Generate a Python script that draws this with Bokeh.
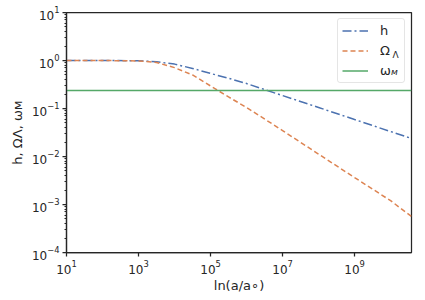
from bokeh.plotting import figure
from bokeh.models import FixedTicker, Legend, LegendItem, Range1d, Label
from bokeh.embed import file_html
from bokeh.resources import INLINE

# Data (x = a/a0, log scale)
a_vals = [1e1, 1e2, 1e3, 3.16e3, 1e4, 3.16e4, 1e5, 3.16e5, 1e6, 1e7, 1e8, 1e9, 3.16e9, 1e10, 3.8e10]
h_vals = [1.0, 1.0, 0.99, 0.944, 0.841, 0.684, 0.537, 0.427, 0.331, 0.186, 0.105, 0.0589, 0.0442, 0.0331, 0.0237]
omega_lambda = [1.0, 1.0, 0.98, 0.91, 0.71, 0.50, 0.295, 0.174, 0.105, 0.0347, 0.0112, 0.00363, 0.00209, 0.0012, 0.000562]
omega_m = [0.237] * len(a_vals)

x_ticks = [1e1, 1e3, 1e5, 1e7, 1e9]
y_ticks = [1e-4, 1e-3, 1e-2, 1e-1, 1e0, 1e1]
y_minor = [m * 10.0 ** e for e in range(-4, 1) for m in range(2, 10)]

FONT = "DejaVu Sans"
DARK = "#262626"

p = figure(frame_width=345, frame_height=240, x_axis_type="log", y_axis_type="log",
           x_range=Range1d(1e1, 3.8e10), y_range=Range1d(1e-4, 1e1),
           output_backend="svg", toolbar_location=None,
           min_border_left=66, min_border_right=6, min_border_top=12, min_border_bottom=40)

r_h = p.line(a_vals, h_vals, line_color="#4C72B0", line_width=1.5, line_dash="9 3 2 3")
r_l = p.line(a_vals, omega_lambda, line_color="#DD8452", line_width=1.5, line_dash="5 3")
r_m = p.line(a_vals, omega_m, line_color="#55A868", line_width=1.5)

p.xgrid.visible = False
p.ygrid.visible = False
p.outline_line_color = DARK
p.outline_line_width = 1.25
p.outline_line_alpha = 1.0

p.xaxis.ticker = FixedTicker(ticks=x_ticks, minor_ticks=[])
p.yaxis.ticker = FixedTicker(ticks=y_ticks, minor_ticks=y_minor)

for ax in (p.xaxis, p.yaxis):
    ax.axis_line_color = DARK
    ax.axis_line_width = 1.25
    ax.major_tick_line_color = DARK
    ax.minor_tick_line_color = DARK
    ax.major_tick_line_width = 1.25
    ax.minor_tick_line_width = 1.0
    ax.major_tick_out = 4
    ax.major_tick_in = 0
    ax.minor_tick_out = 2
    ax.minor_tick_in = 0
    ax.major_label_standoff = 3
    ax.major_label_text_font = FONT
    ax.major_label_text_font_size = "12px"
    ax.major_label_text_color = DARK
    ax.axis_label_text_font = FONT
    ax.axis_label_text_font_size = "13px"
    ax.axis_label_text_font_style = "normal"
    ax.axis_label_text_color = DARK

p.xaxis.axis_label = "ln(a/a\u2218)"
p.yaxis.axis_label = "h, \u03a9\u039b, \u03c9\u043c"
p.xaxis.axis_label_standoff = 1
p.yaxis.axis_label_standoff = 4

legend = Legend(items=[LegendItem(label="h", renderers=[r_h]),
                       LegendItem(label="\u03a9", renderers=[r_l]),
                       LegendItem(label="\u03c9", renderers=[r_m])],
                location="top_right")
legend.label_text_font = FONT
legend.label_text_font_size = "13px"
legend.label_text_color = DARK
legend.glyph_width = 26
legend.glyph_height = 13
legend.label_height = 13
legend.label_width = 20
legend.label_standoff = 12
legend.spacing = 5
legend.padding = 4
legend.margin = 6
legend.border_line_color = "#cccccc"
legend.border_line_width = 1
legend.border_radius = 3
legend.background_fill_alpha = 0.0
p.add_layout(legend)

# legend subscripts (positions relative to the plot frame)
for txt, sx, sy, style in [("\u039b", 326, 198, "normal"), ("\u043c", 324.5, 180.5, "italic")]:
    p.add_layout(Label(x=sx, y=sy, x_units="screen", y_units="screen", text=txt,
                       text_font=FONT, text_font_size="9px", text_font_style=style,
                       text_color=DARK, text_align="left", text_baseline="alphabetic",
                       level="overlay"))

open("out.html", "w").write(file_html(p, INLINE))
